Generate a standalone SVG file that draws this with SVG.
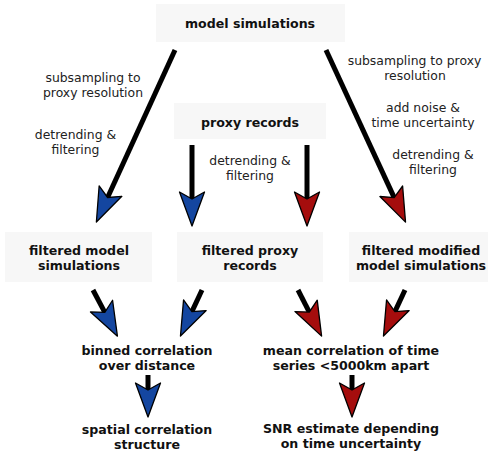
<svg xmlns="http://www.w3.org/2000/svg" width="488" height="461" viewBox="0 0 488 461">
<style>
.box{fill:#f7f7f7;stroke:none}
.b{font-family:"DejaVu Sans","Liberation Sans",sans-serif;font-weight:bold;font-size:12.6px;fill:#111;text-anchor:middle}
.t{font-family:"DejaVu Sans","Liberation Sans",sans-serif;font-size:12.4px;fill:#222;text-anchor:middle}
.c{stroke:#000;stroke-width:5;fill:none}
.cb{marker-end:url(#hb)}
.cr{marker-end:url(#hr)}
</style>
<defs>
<marker id="hb" markerUnits="userSpaceOnUse" viewBox="-1 -14 37 28" markerWidth="37" markerHeight="28" refX="7" refY="0" orient="auto">
<path d="M0,-12.5 L34,0 L0,12.5 L7,0 Z" fill="#1446a0" stroke="#000" stroke-width="1.3" stroke-linejoin="round"/>
</marker>
<marker id="hr" markerUnits="userSpaceOnUse" viewBox="-1 -14 37 28" markerWidth="37" markerHeight="28" refX="7" refY="0" orient="auto">
<path d="M0,-12.5 L34,0 L0,12.5 L7,0 Z" fill="#a50d0d" stroke="#000" stroke-width="1.3" stroke-linejoin="round"/>
</marker>
</defs>
<rect width="488" height="461" fill="#fff"/>
<g id="model-simulations">
<rect class="box" x="156" y="4" width="189" height="38"/>
<text class="b" x="250" y="28">model simulations</text>
</g>
<g id="proxy-records">
<rect class="box" x="174" y="103" width="152" height="36"/>
<text class="b" x="250" y="127">proxy records</text>
</g>
<g id="filtered-model">
<rect class="box" x="5" y="232" width="147" height="50"/>
<text class="b" x="79" y="255">filtered model</text>
<text class="b" x="79" y="270">simulations</text>
</g>
<g id="filtered-proxy">
<rect class="box" x="177" y="232" width="146" height="50"/>
<text class="b" x="250" y="255">filtered proxy</text>
<text class="b" x="250" y="270">records</text>
</g>
<g id="filtered-modified">
<rect class="box" x="349" y="232" width="139" height="50"/>
<text class="b" x="421" y="255">filtered modified</text>
<text class="b" x="421" y="270">model simulations</text>
</g>
<g id="binned-correlation">
<text class="b" x="147" y="355">binned correlation</text>
<text class="b" x="147" y="370">over distance</text>
</g>
<g id="mean-correlation">
<text class="b" x="351" y="355">mean correlation of time</text>
<text class="b" x="351" y="370">series &lt;5000km apart</text>
</g>
<g id="spatial-correlation">
<text class="b" x="147" y="434">spatial correlation</text>
<text class="b" x="147" y="449">structure</text>
</g>
<g id="snr-estimate">
<text class="b" x="351" y="433">SNR estimate depending</text>
<text class="b" x="351" y="448">on time uncertainty</text>
</g>
<g id="connectors">
<line class="c cb" x1="175" y1="50" x2="107.6" y2="197.5"/>
<line class="c cb" x1="192" y1="145" x2="192" y2="199"/>
<line class="c cr" x1="307" y1="145" x2="307" y2="199"/>
<line class="c cr" x1="326" y1="50" x2="394.2" y2="197.6"/>
<line class="c cb" x1="93" y1="290" x2="104.8" y2="312.3"/>
<line class="c cb" x1="202" y1="290" x2="191.9" y2="311.6"/>
<line class="c cr" x1="298" y1="290" x2="309.3" y2="312.1"/>
<line class="c cr" x1="405" y1="290" x2="394.9" y2="311.6"/>
<line class="c cb" x1="148" y1="375" x2="148" y2="390"/>
<line class="c cr" x1="352" y1="375" x2="352" y2="390"/>
</g>
<g id="labels">
<text class="t" x="93" y="82">subsampling to</text>
<text class="t" x="93" y="97">proxy resolution</text>
<text class="t" x="75.5" y="139">detrending &amp;</text>
<text class="t" x="75.5" y="154">filtering</text>
<text class="t" x="250" y="165">detrending &amp;</text>
<text class="t" x="250" y="180">filtering</text>
<text class="t" x="414.5" y="65">subsampling to proxy</text>
<text class="t" x="415" y="80">resolution</text>
<text class="t" x="423" y="112">add noise &amp;</text>
<text class="t" x="423" y="127">time uncertainty</text>
<text class="t" x="433" y="159">detrending &amp;</text>
<text class="t" x="433" y="174">filtering</text>
</g>
</svg>
